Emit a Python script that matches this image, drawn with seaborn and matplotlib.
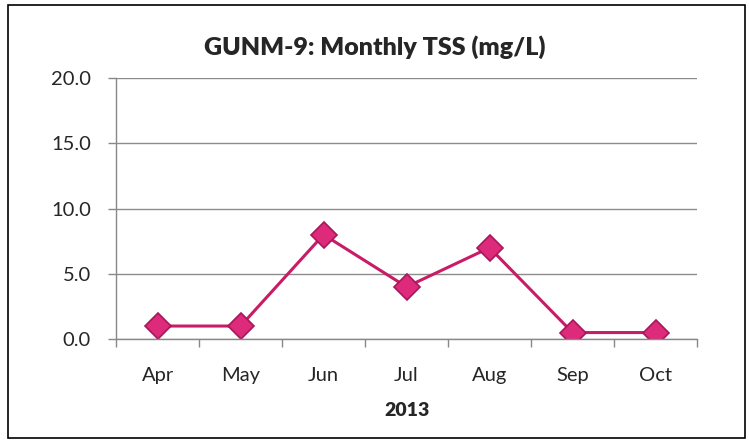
import matplotlib
matplotlib.use("Agg")
import matplotlib.pyplot as plt
import seaborn as sns
import pandas as pd
import numpy as np
from matplotlib.patches import Rectangle

months = ["Apr", "May", "Jun", "Jul", "Aug", "Sep", "Oct"]
tss = [1.0, 1.0, 8.0, 4.0, 7.0, 0.5, 0.5]
yticks = [0.0, 5.0, 10.0, 15.0, 20.0]
title = "GUNM-9: Monthly TSS (mg/L)"
xlabel = "2013"

sns.set_theme(style="white")
plt.rcParams['font.family'] = ['Lato', 'DejaVu Sans']

df = pd.DataFrame({"month": months, "tss": tss})

fig = plt.figure(figsize=(7.49, 4.45), dpi=100)
ax = fig.add_axes([0.155, 0.238, 0.9306 - 0.155, 0.8247 - 0.238])

sns.lineplot(data=df, x="month", y="tss", sort=False, ax=ax,
             color="#C81C66", linewidth=2.2, marker="D", markersize=13,
             markerfacecolor="#DD2A7B", markeredgecolor="#A8175A",
             markeredgewidth=1.2)

ax.set_xlim(-0.5, len(months) - 0.5)
ax.set_ylim(0, 20)
ax.set_yticks(yticks)
ax.set_yticklabels([f"{v:.1f}" for v in yticks], fontsize=14.5)
ax.set_xticks(range(len(months)))
ax.set_xticklabels(months, fontsize=14.5)
ax.set_xticks(np.arange(-0.5, len(months), 1.0), minor=True)
ax.tick_params(axis="x", which="major", length=0, pad=20)
ax.tick_params(axis="x", which="minor", length=6, width=1, color="#888888", direction="out", bottom=True)
ax.tick_params(axis="y", length=6, width=1, color="#888888", direction="out", left=True, pad=12)

ax.yaxis.grid(True, color="#8c8c8c", linewidth=1)
ax.xaxis.grid(False)
ax.set_axisbelow(True)
for s in ["top", "right"]:
    ax.spines[s].set_visible(False)
for s in ["left", "bottom"]:
    ax.spines[s].set_color("#888888")
    ax.spines[s].set_linewidth(1)

ax.set_xlabel(xlabel, fontsize=14, fontweight="heavy", labelpad=13)
ax.set_ylabel("")
fig.text(0.5, 0.893, title, ha="center", va="center", fontsize=18, fontweight="heavy")

fig.patches.append(Rectangle((8 / 749, 1 - 438 / 445), 737 / 749, 433 / 445,
                             transform=fig.transFigure, fill=False,
                             edgecolor="black", linewidth=1.2))

fig.savefig("out.png", dpi=100)
